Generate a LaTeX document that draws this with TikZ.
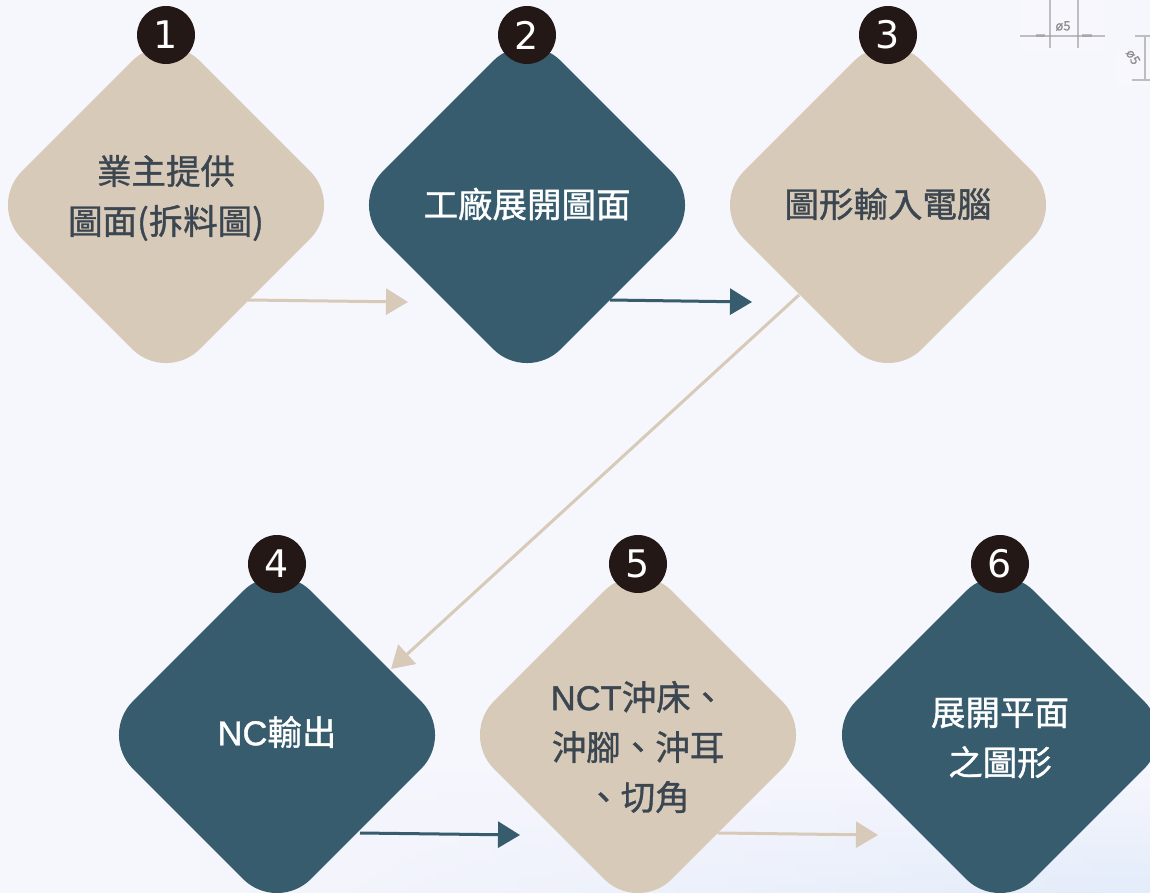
\documentclass[tikz,border=0pt]{standalone}
\usepackage{fontspec}
\setmainfont{Noto Sans CJK TC}[FakeBold=1.1]
\newfontfamily\numfont{DejaVu Sans}
\newfontfamily\latinfont{Liberation Sans}[FakeBold=1.1]
\usetikzlibrary{shapes.geometric, arrows.meta, fadings}
\definecolor{bgcol}{HTML}{F6F6FD}
\definecolor{glowcol}{HTML}{E3ECFA}
\definecolor{sandcol}{HTML}{D8CAB8}
\definecolor{tealcol}{HTML}{365C6E}
\definecolor{inkcol}{HTML}{3B4650}
\definecolor{dotcol}{HTML}{231815}
\tikzset{
	stepbox/.style={shape=diamond, aspect=1, minimum width=356pt, minimum height=356pt, inner sep=0pt, rounded corners=48pt},
	sandbox/.style={stepbox, fill=sandcol},
	tealbox/.style={stepbox, fill=tealcol},
	boxtext/.style={align=center, font=\fontsize{34.5}{50}\selectfont},
	sandtext/.style={boxtext, text=inkcol},
	tealtext/.style={boxtext, text=white},
	numdot/.style={circle, fill=dotcol, text=white, minimum size=58pt, inner sep=0pt, font=\numfont\fontsize{38}{38}\selectfont},
	flow/.style={line width=3pt, -{Triangle[length=22pt, width=26pt]}},
	scrap/.style={line width=1.6pt, black!40, opacity=.6},
	scraptxt/.style={text=black!60, opacity=.65, inner sep=0pt, font=\fontsize{13}{13}\selectfont},
}
\begin{document}
\begin{tikzpicture}[x=1pt, y=-1pt]
	\useasboundingbox (0, 0) rectangle (1150, 893);
	\fill[bgcol] (0, 0) rectangle (1150, 893);
	\shade[top color=bgcol, bottom color=glowcol, path fading=west] (200, 770) rectangle (1150, 893);
	% scraps of the drawing behind
	\fill[white, opacity=.2] (1020, 0) rectangle (1105, 50);
	\fill[white, opacity=.2] (1115, 50) rectangle (1150, 85);
	\draw[scrap] (1020, 36) -- (1105, 36);
	\draw[scrap, line width=3pt] (1036, 36) -- (1045, 36) (1082, 36) -- (1092, 36);
	\draw[scrap] (1050, 0) -- (1050, 48);
	\draw[scrap] (1078, 0) -- (1078, 48);
	\node[scraptxt] (scraptext) at (1063, 26) {ø5};
	\draw[scrap] (1145, 36) -- (1145, 80) (1135, 36) -- (1150, 36) (1132, 80) -- (1150, 80);
	\node[scraptxt, rotate=-60] (scrapside) at (1133, 57) {ø5};

	\node[sandbox] (d1) at (166, 205) {};
	\node[tealbox] (d2) at (527, 205) {};
	\node[sandbox] (d3) at (888, 205) {};
	\node[tealbox] (d4) at (277, 735) {};
	\node[sandbox] (d5) at (638, 735) {};
	\node[tealbox] (d6) at (1000, 735) {};

	\node[sandtext] (t1) at (166, 198) {業主提供\\圖面(拆料圖)};
	\node[tealtext] (t2) at (527, 204) {工廠展開圖面};
	\node[sandtext] (t3) at (888, 204) {圖形輸入電腦};
	\node[tealtext] (t4) at (277, 732) {{\latinfont NC}輸出};
	\node[sandtext] (t5) at (638, 747) {{\latinfont NCT}沖床、\\沖腳、沖耳\\、切角};
	\node[tealtext] (t6) at (1000, 738) {展開平面\\之圖形};

	\foreach \i/\x/\y in {1/166/35, 2/527/35, 3/888/35, 4/277/564, 5/638/564, 6/1000/564} {
		\node[numdot] (n\i) at (\x, \y) {\i};
	}

	\coordinate (a1) at (248, 300);
	\coordinate (b1) at (408, 302);
	\coordinate (a2) at (610, 300);
	\coordinate (b2) at (752, 302);
	\coordinate (a3) at (799, 295);
	\coordinate (b3) at (391, 669);
	\coordinate (a4) at (360, 833);
	\coordinate (b4) at (520, 835);
	\coordinate (a5) at (718, 833);
	\coordinate (b5) at (878, 835);
	\draw[flow, sandcol] (a1) -- (b1);
	\draw[flow, tealcol] (a2) -- (b2);
	\draw[flow, sandcol] (a3) -- (b3);
	\draw[flow, tealcol] (a4) -- (b4);
	\draw[flow, sandcol] (a5) -- (b5);
\end{tikzpicture}
\end{document}
